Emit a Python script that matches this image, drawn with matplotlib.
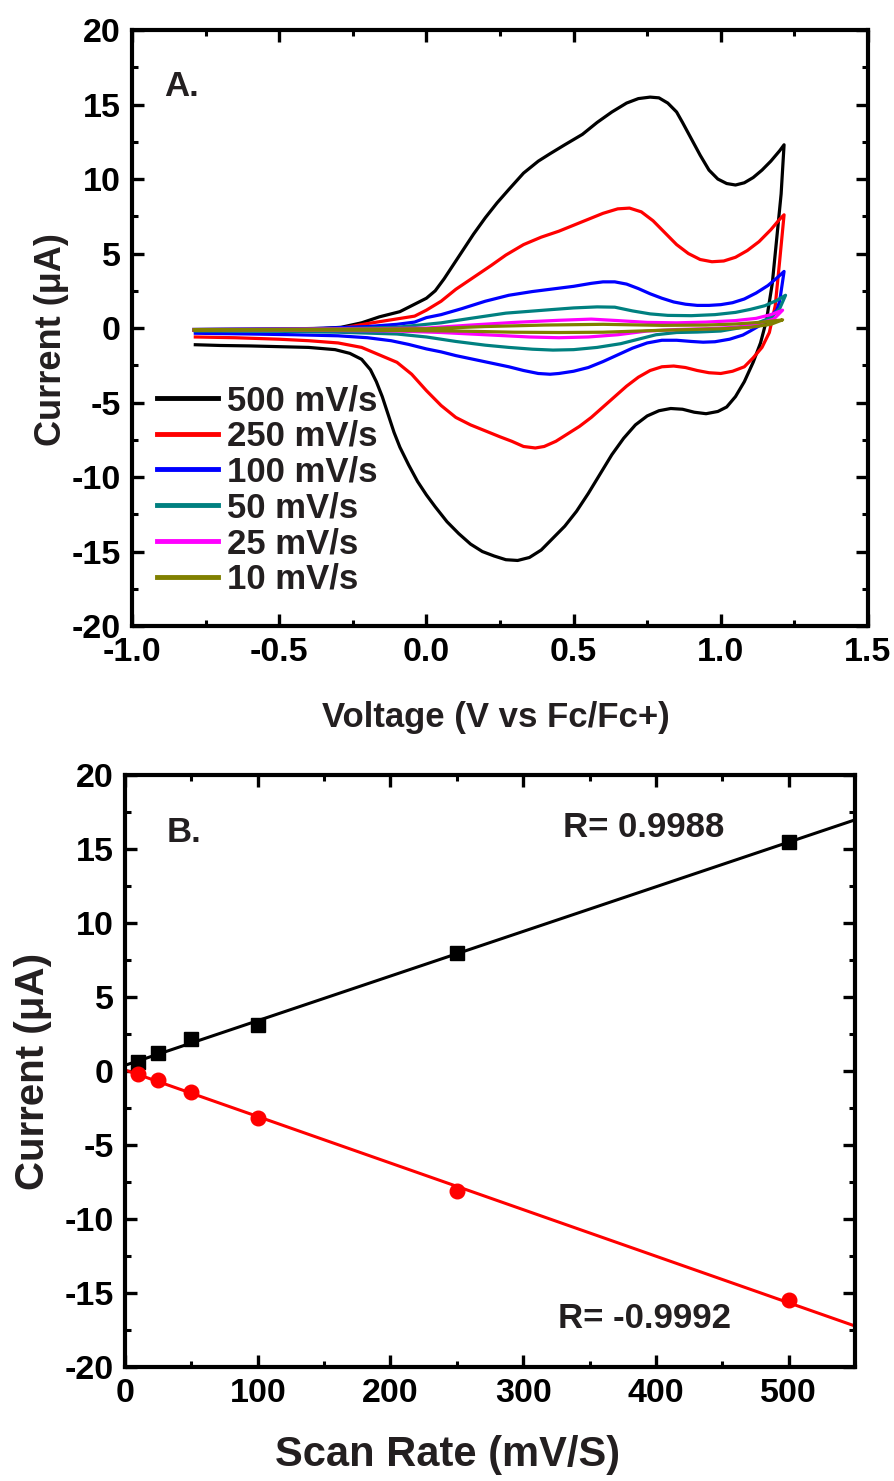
import numpy as np
import matplotlib
matplotlib.use("Agg")
import matplotlib.pyplot as plt
from matplotlib.ticker import MultipleLocator

plt.rcParams["font.family"] = ["Liberation Sans", "DejaVu Sans"]
plt.rcParams["font.weight"] = "bold"
plt.rcParams["axes.unicode_minus"] = False

TXT = "#231f20"

# ── Panel A: cyclic voltammograms (forward + reverse sweep) ──────────────────
rates  = ["500 mV/s", "250 mV/s", "100 mV/s", "50 mV/s", "25 mV/s", "10 mV/s"]
colors = ["#000000", "#ff0000", "#0000ff", "#008080", "#ff00ff", "#808000"]

v500_fwd = [-0.79, -0.60, -0.45, -0.35, -0.29, -0.22, -0.16, -0.12, -0.09, -0.05, 0.00,
            0.03, 0.06, 0.09, 0.12, 0.16, 0.20, 0.24, 0.28, 0.33, 0.38, 0.42, 0.47, 0.53, 0.58,
            0.63, 0.68, 0.72, 0.76, 0.79, 0.82, 0.85, 0.87, 0.90, 0.93, 0.96, 0.99,
            1.02, 1.05, 1.08, 1.11, 1.14, 1.17, 1.20, 1.215]
i500_fwd = [-0.10, -0.08, -0.05, -0.02, 0.05, 0.35, 0.75, 0.95, 1.10, 1.50, 2.00,
            2.50, 3.30, 4.20, 5.10, 6.30, 7.40, 8.40, 9.30, 10.40, 11.20, 11.70, 12.30, 13.00, 13.80,
            14.50, 15.10, 15.40, 15.50, 15.45, 15.10, 14.50, 13.80, 12.70, 11.60, 10.60, 10.00,
            9.70, 9.60, 9.75, 10.10, 10.60, 11.20, 11.90, 12.30]
v500_rev = [1.215, 1.205, 1.19, 1.175, 1.155, 1.135, 1.11, 1.08, 1.05, 1.02, 0.99, 0.95,
            0.91, 0.87, 0.83, 0.79, 0.75, 0.71, 0.67, 0.63, 0.59, 0.55, 0.51, 0.47,
            0.43, 0.39, 0.35, 0.31, 0.27, 0.23, 0.19, 0.15, 0.11, 0.07, 0.03, 0.00,
            -0.03, -0.06, -0.09, -0.11, -0.13, -0.15, -0.17, -0.19, -0.22, -0.26, -0.31,
            -0.40, -0.50, -0.60, -0.70, -0.785]
i500_rev = [12.30, 9.00, 6.00, 3.00, 0.50, -1.00, -2.30, -3.60, -4.60, -5.30, -5.60, -5.75,
            -5.65, -5.45, -5.40, -5.55, -5.90, -6.50, -7.40, -8.50, -9.80, -11.10, -12.30, -13.30,
            -14.10, -14.90, -15.40, -15.60, -15.55, -15.30, -15.00, -14.50, -13.80, -13.00, -12.00, -11.20,
            -10.30, -9.20, -8.00, -7.00, -5.80, -4.60, -3.60, -2.80, -2.10, -1.70, -1.45,
            -1.30, -1.25, -1.20, -1.17, -1.12]

v250_fwd = [-0.79, -0.50, -0.30, -0.20, -0.12, -0.04, 0.00, 0.05, 0.10, 0.16, 0.22, 0.27,
            0.33, 0.39, 0.45, 0.50, 0.55, 0.60, 0.65, 0.69, 0.73, 0.77, 0.81, 0.85,
            0.89, 0.93, 0.97, 1.01, 1.05, 1.09, 1.13, 1.17, 1.20, 1.215]
i250_fwd = [-0.15, -0.10, -0.05, 0.30, 0.55, 0.80, 1.20, 1.80, 2.60, 3.40, 4.20, 4.90,
            5.60, 6.10, 6.50, 6.90, 7.30, 7.70, 8.00, 8.05, 7.80, 7.20, 6.40, 5.60,
            5.00, 4.60, 4.45, 4.50, 4.75, 5.20, 5.80, 6.60, 7.30, 7.60]
v250_rev = [1.215, 1.20, 1.185, 1.165, 1.14, 1.11, 1.08, 1.04, 1.00, 0.96, 0.92, 0.88,
            0.84, 0.80, 0.76, 0.72, 0.68, 0.64, 0.60, 0.56, 0.52, 0.48, 0.44, 0.40,
            0.37, 0.33, 0.29, 0.25, 0.20, 0.15, 0.10, 0.05, 0.00, -0.05, -0.10, -0.16,
            -0.22, -0.30, -0.40, -0.50, -0.65, -0.785]
i250_rev = [7.60, 4.50, 1.50, -0.30, -1.30, -2.00, -2.60, -2.90, -3.05, -3.00, -2.85, -2.65,
            -2.55, -2.60, -2.85, -3.30, -3.90, -4.60, -5.30, -6.00, -6.60, -7.10, -7.60, -7.95,
            -8.05, -7.95, -7.60, -7.30, -6.90, -6.50, -6.00, -5.20, -4.20, -3.10, -2.30, -1.80,
            -1.30, -1.00, -0.85, -0.75, -0.65, -0.60]

v100_fwd = [-0.79, -0.40, -0.20, -0.10, -0.04, 0.00, 0.05, 0.12, 0.20, 0.28, 0.36, 0.44,
            0.50, 0.56, 0.60, 0.64, 0.68, 0.72, 0.76, 0.80, 0.84, 0.88, 0.92, 0.96,
            1.00, 1.04, 1.08, 1.12, 1.16, 1.19, 1.215]
i100_fwd = [-0.10, -0.05, 0.10, 0.25, 0.40, 0.70, 0.90, 1.30, 1.80, 2.20, 2.45, 2.65,
            2.80, 3.00, 3.10, 3.10, 2.95, 2.65, 2.30, 2.00, 1.75, 1.60, 1.52, 1.52,
            1.57, 1.70, 1.95, 2.35, 2.85, 3.35, 3.80]
v100_rev = [1.215, 1.20, 1.19, 1.16, 1.135, 1.10, 1.075, 1.03, 0.98, 0.94, 0.90, 0.85,
            0.80, 0.75, 0.70, 0.65, 0.60, 0.55, 0.50, 0.45, 0.42, 0.38, 0.33, 0.28,
            0.22, 0.16, 0.10, 0.05, 0.00, -0.06, -0.12, -0.20, -0.30, -0.45, -0.60, -0.785]
i100_rev = [3.80, 1.80, 1.20, 0.60, 0.20, -0.20, -0.47, -0.75, -0.92, -0.95, -0.90, -0.82,
            -0.82, -1.00, -1.35, -1.80, -2.25, -2.65, -2.90, -3.05, -3.10, -3.05, -2.85, -2.60,
            -2.35, -2.10, -1.85, -1.60, -1.40, -1.10, -0.85, -0.65, -0.52, -0.45, -0.40, -0.35]

v50_fwd = [-0.79, -0.30, -0.10, 0.00, 0.05, 0.15, 0.27, 0.40, 0.50, 0.58, 0.64, 0.70,
           0.76, 0.82, 0.90, 0.98, 1.05, 1.10, 1.15, 1.19, 1.22]
i50_fwd = [-0.10, -0.05, 0.05, 0.25, 0.35, 0.65, 1.00, 1.20, 1.35, 1.42, 1.40, 1.15,
           0.95, 0.85, 0.83, 0.90, 1.05, 1.25, 1.50, 1.85, 2.20]
v50_rev = [1.22, 1.20, 1.17, 1.12, 1.06, 1.00, 0.92, 0.85, 0.78, 0.72, 0.66, 0.58,
           0.50, 0.43, 0.36, 0.28, 0.20, 0.10, 0.00, -0.10, -0.30, -0.50, -0.785]
i50_rev = [2.20, 1.30, 0.70, 0.30, 0.00, -0.20, -0.27, -0.30, -0.45, -0.75, -1.05, -1.30,
           -1.45, -1.48, -1.42, -1.30, -1.15, -0.90, -0.60, -0.40, -0.28, -0.22, -0.20]

v25_fwd = [-0.79, -0.20, 0.00, 0.15, 0.30, 0.45, 0.56, 0.65, 0.75, 0.85, 0.95, 1.05,
           1.12, 1.17, 1.21]
i25_fwd = [-0.10, -0.05, 0.00, 0.20, 0.38, 0.52, 0.60, 0.50, 0.38, 0.35, 0.40, 0.50,
           0.65, 0.90, 1.20]
v25_rev = [1.21, 1.18, 1.12, 1.05, 0.95, 0.85, 0.75, 0.65, 0.55, 0.45, 0.35, 0.20,
           0.05, -0.10, -0.40, -0.785]
i25_rev = [1.20, 0.60, 0.25, 0.05, -0.05, -0.10, -0.20, -0.45, -0.60, -0.65, -0.60, -0.45,
           -0.30, -0.20, -0.15, -0.12]

v10_fwd = [-0.79, 0.00, 0.20, 0.40, 0.60, 0.80, 0.95, 1.05, 1.13, 1.18, 1.21]
i10_fwd = [-0.12, -0.05, 0.10, 0.20, 0.25, 0.18, 0.20, 0.27, 0.38, 0.48, 0.55]
v10_rev = [1.21, 1.17, 1.10, 1.00, 0.80, 0.60, 0.45, 0.30, 0.10, -0.20, -0.785]
i10_rev = [0.55, 0.25, 0.05, -0.05, -0.15, -0.28, -0.30, -0.28, -0.20, -0.15, -0.13]

cv_v = [v500_fwd + v500_rev, v250_fwd + v250_rev, v100_fwd + v100_rev,
        v50_fwd + v50_rev, v25_fwd + v25_rev, v10_fwd + v10_rev]
cv_i = [i500_fwd + i500_rev, i250_fwd + i250_rev, i100_fwd + i100_rev,
        i50_fwd + i50_rev, i25_fwd + i25_rev, i10_fwd + i10_rev]

# ── Panel B: peak current vs scan rate ───────────────────────────────────────
scan_rate  = [10, 25, 50, 100, 250, 500]
i_anodic   = [0.6, 1.2, 2.16, 3.1, 7.97, 15.47]
i_cathodic = [-0.2, -0.6, -1.4, -3.2, -8.1, -15.5]
r_anodic   = "R= 0.9988"
r_cathodic = "R= -0.9992"


def style_axes(ax, xmaj, xmin, ymaj, ymin):
    ax.xaxis.set_major_locator(MultipleLocator(xmaj))
    ax.xaxis.set_minor_locator(MultipleLocator(xmin))
    ax.yaxis.set_major_locator(MultipleLocator(ymaj))
    ax.yaxis.set_minor_locator(MultipleLocator(ymin))
    ax.tick_params(which="both", direction="in", top=True, right=True,
                   colors="black")
    ax.tick_params(which="major", length=8.5, width=2.4, labelsize=24.5, pad=8)
    ax.tick_params(which="minor", length=4.5, width=2.2)
    for s in ax.spines.values():
        s.set_linewidth(3.0)
    for lab in ax.get_xticklabels() + ax.get_yticklabels():
        lab.set_fontweight("bold")


fig = plt.figure(figsize=(8.95, 14.81), dpi=100)

# Panel A
axA = fig.add_axes([0.1475, 0.5773, 0.8223, 0.4024])
for v, i, c, lab in zip(cv_v, cv_i, colors, rates):
    axA.plot(v, i, color=c, lw=2.3, label=lab)
axA.set_xlim(-1.0, 1.5)
axA.set_ylim(-20, 20)
style_axes(axA, 0.5, 0.25, 5, 2.5)
axA.set_xlabel("Voltage (V vs Fc/Fc+)", fontsize=25, fontweight="bold", color=TXT)
axA.set_ylabel("Current (\u03bcA)", fontsize=26, fontweight="bold", color=TXT)
axA.xaxis.set_label_coords(0.4946, -0.125)
axA.yaxis.set_label_coords(-0.085, 0.48)
axA.text(-0.89, 15.6, "A.", fontsize=25, fontweight="bold", color=TXT)
leg = axA.legend(loc="upper left", bbox_to_anchor=(0.034, 0.406), frameon=False,
                 fontsize=25, handlelength=1.76, handletextpad=0.26,
                 labelspacing=0.08, borderaxespad=0, borderpad=0)
for t in leg.get_texts():
    t.set_color(TXT)
    t.set_fontweight("bold")
for h in leg.get_lines():
    h.set_linewidth(3.5)

# Panel B
axB = fig.add_axes([0.1397, 0.0770, 0.8156, 0.3997])
xfit = np.array([0, 550])
pa = np.polyfit(scan_rate, i_anodic, 1)
pc = np.polyfit(scan_rate, i_cathodic, 1)
axB.plot(xfit, np.polyval(pa, xfit), color="black", lw=2.2, clip_on=False)
axB.plot(xfit, np.polyval(pc, xfit), color="#ff0000", lw=2.2, clip_on=False)
axB.plot(scan_rate, i_anodic, "s", color="black", ms=9.5, clip_on=False)
axB.plot(scan_rate, i_cathodic, "o", color="#ff0000", ms=10.5, clip_on=False)
axB.set_xlim(0, 550)
axB.set_ylim(-20, 20)
style_axes(axB, 100, 50, 5, 2.5)
axB.set_xlabel("Scan Rate (mV/S)", fontsize=30, fontweight="bold", color=TXT)
axB.set_ylabel("Current (\u03bcA)", fontsize=29, fontweight="bold", color=TXT)
axB.xaxis.set_label_coords(0.4425, -0.115)
axB.yaxis.set_label_coords(-0.10, 0.5)
axB.text(31, 15.5, "B.", fontsize=25, fontweight="bold", color=TXT)
axB.text(330, 15.8, r_anodic, fontsize=25, fontweight="bold", color=TXT)
axB.text(326, -17.4, r_cathodic, fontsize=25, fontweight="bold", color=TXT)

fig.savefig("out.png", dpi=100)
